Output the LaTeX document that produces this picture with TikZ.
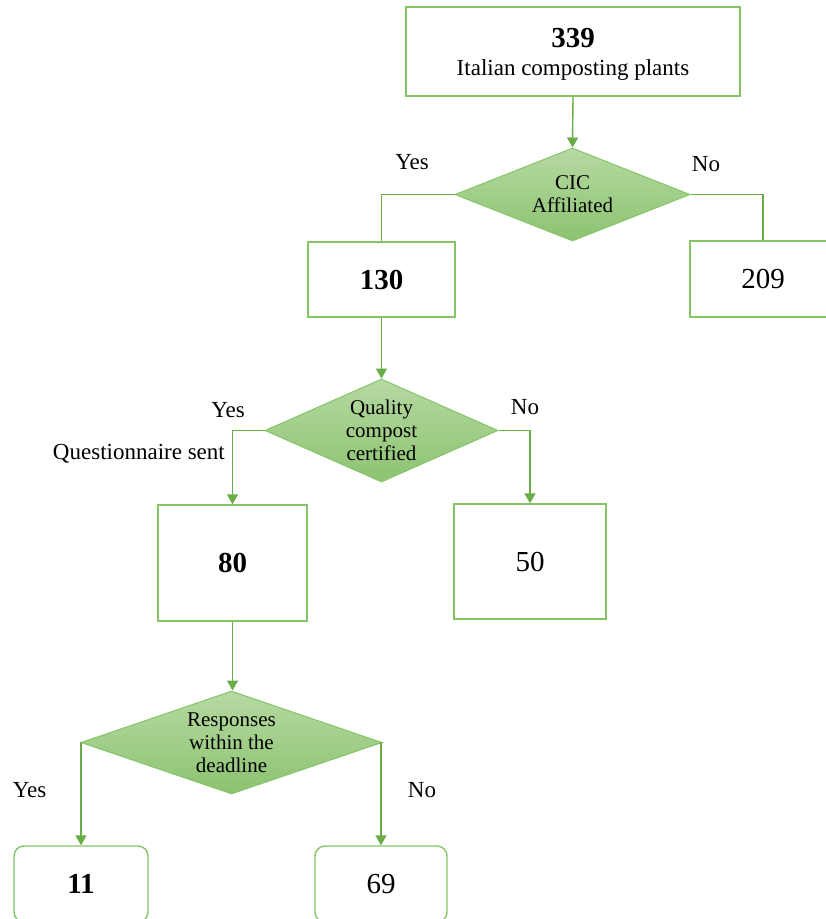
\documentclass[tikz,border=0pt]{standalone}
\usepackage{fontspec}
\setmainfont{Liberation Serif}
\usetikzlibrary{shapes.geometric,arrows.meta}
\definecolor{lgreen}{RGB}{134,196,104}
\definecolor{agreen}{RGB}{106,173,70}
\definecolor{dtop}{RGB}{182,217,162}
\definecolor{dbot}{RGB}{140,195,112}
\tikzset{
  box/.style={draw=lgreen, line width=1.4pt, rectangle, inner sep=0pt, align=center},
  rbox/.style={box, rounded corners=10pt},
  decision/.style={diamond, draw=lgreen, line width=1pt, top color=dtop, bottom color=dbot,
    inner sep=0pt, align=center, font=\fontsize{21}{23}\selectfont},
  num/.style={font=\fontsize{29}{30}\selectfont},
  bnum/.style={font=\fontsize{29}{30}\selectfont\bfseries},
  lbl/.style={font=\fontsize{23}{24}\selectfont, inner sep=0pt},
  conn/.style={draw=agreen, line width=1.4pt},
  arr/.style={conn, -{Triangle[width=11pt,length=10pt]}}
}
\begin{document}
\begin{tikzpicture}[x=1pt,y=-1pt]
\useasboundingbox (0,0) rectangle (826,919);
\clip (0,0) rectangle (826,919);
% nodes
\node[box, minimum width=334pt, minimum height=89pt] (top) at (573,51.5) {};
\node[align=center, inner sep=0pt] (toptext) at (573,54)
  {{\fontsize{29}{30}\selectfont\bfseries 339}\\[11pt]{\fontsize{23}{24}\selectfont Italian composting plants}};
\node[decision, aspect=2.53, minimum width=235pt, minimum height=93pt] (d1) at (572.5,194.5) {CIC\\Affiliated};
\node[box, bnum, minimum width=147pt, minimum height=75pt] (b130) at (381.5,279.5) {130};
\node[box, num, minimum width=146pt, minimum height=76pt] (b209) at (763,279) {209};
\node[decision, aspect=2.26, minimum width=233pt, minimum height=103pt] (d2) at (381.5,430.5) {Quality\\compost\\certified};
\node[box, bnum, minimum width=149pt, minimum height=116pt] (b80) at (232.5,563) {80};
\node[box, num, minimum width=152pt, minimum height=115pt] (b50) at (530,561.5) {50};
\node[decision, aspect=2.92, minimum width=301pt, minimum height=103pt] (d3) at (231.5,742.5) {Responses\\within the\\deadline};
\node[rbox, bnum, minimum width=134pt, minimum height=76pt] (b11) at (81,884) {11};
\node[rbox, num, minimum width=132pt, minimum height=76pt] (b69) at (381,884) {69};
% labels
\node[lbl] (y1) at (412,162) {Yes};
\node[lbl] (n1) at (706,164) {No};
\node[lbl] (y2) at (228,410) {Yes};
\node[lbl] (n2) at (525,407) {No};
\node[lbl, anchor=east] (qs) at (225,454) {Questionnaire sent};
\node[lbl] (y3) at (29.5,790) {Yes};
\node[lbl] (n3) at (422,790) {No};
% connectors
\draw[arr] (top.south) -- (d1.north);
\draw[conn] (d1.west) -| (b130.north);
\draw[conn] (d1.east) -| (b209.north);
\draw[arr] (b130.south) -- (d2.north);
\draw[arr] (d2.west) -| (b80.north);
\draw[arr] (d2.east) -| (b50.north);
\draw[arr] (b80.south) -- (b80.south |- d3.north);
\draw[arr] (d3.west) -| (b11.north);
\draw[arr] (d3.east) -| (b69.north);
\end{tikzpicture}
\end{document}
